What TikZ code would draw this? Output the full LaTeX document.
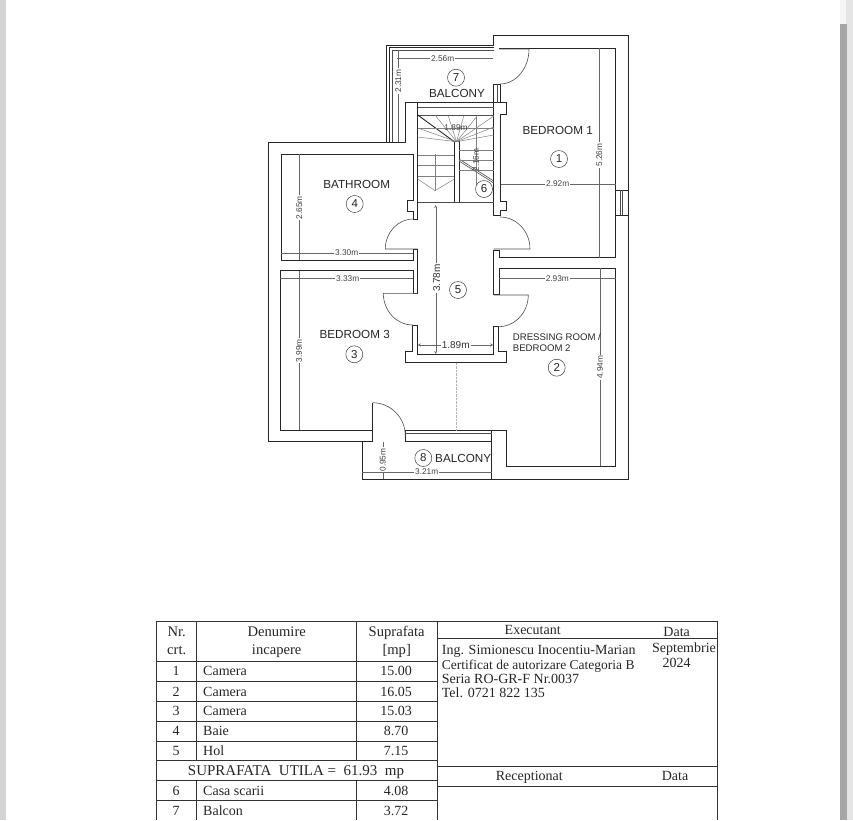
\documentclass[tikz,border=0pt]{standalone}
\usepackage{fontspec}
\setmainfont{Liberation Serif}
\setsansfont{Liberation Sans}
\usetikzlibrary{arrows,positioning}

\begin{document}
\begin{tikzpicture}[
    x=1pt, y=-1pt,
    wall/.style={draw=black!85, line width=1pt, line join=miter},
    thinwall/.style={draw=black!70, line width=0.6pt},
    tread/.style={draw=black!50, line width=0.5pt},
    door/.style={draw=black!70, line width=0.6pt},
    dimline/.style={draw=black!60, line width=0.4pt, <->, >=stealth},
    dimtext/.style={fill=white, inner sep=1pt, text height=5.8pt, text depth=0pt, text=black!75, font=\sffamily\fontsize{8.3}{8}\selectfont},
    dimbig/.style={fill=white, inner sep=1pt, text height=7pt, text depth=0pt, text=black!80, font=\sffamily\fontsize{10}{10}\selectfont},
    roomlab/.style={inner sep=0pt, text height=8.3pt, text depth=0pt, text=black!85, font=\sffamily\fontsize{11.7}{12}\selectfont},
    smallroom/.style={inner sep=0pt, anchor=west, text height=6.9pt, text depth=0pt, text=black!85, font=\sffamily\fontsize{9.6}{10}\selectfont},
    numcirc/.style={circle, draw=black!75, line width=0.5pt, minimum size=17pt, inner sep=0pt, text=black!85, font=\sffamily\fontsize{11.5}{12}\selectfont},
    tabline/.style={draw=black!80, line width=0.9pt},
    tabtext/.style={inner sep=0pt, text height=9.5pt, text depth=0pt, text=black!85, font=\fontsize{14}{14}\selectfont},
    tabhead/.style={tabtext, font=\fontsize{14.6}{14}\selectfont},
    tableft/.style={tabtext, anchor=west}
]
\useasboundingbox (0,0) rectangle (853,820);

% page edges and scroll bar
\fill[black!17] (0,0) rectangle (6,820);
\fill[black!10] (846,0) rectangle (853,820);
\fill[black!4] (840,0) rectangle (846,24);
\fill[black!35] (840,24) rectangle (847,820);

% outer walls
\draw[wall] (493.7,45) -- (493.7,35) -- (628,35) -- (628,479) -- (362,479) -- (362,441) -- (268.3,441) -- (268.3,142.3) -- (405.7,142.3) -- (405.7,102.7) -- (506.3,102.7) -- (506.3,114.3) -- (500.7,114.3) -- (500.7,201.7) -- (506.3,201.7) -- (506.3,210) -- (500.7,210) -- (500.7,215.7) -- (493.7,215.7) -- (493.7,84) -- (500.7,84) -- (500.7,102.7);
\draw[wall] (362,441) -- (372.7,441);
% balcony 7
\draw[wall] (386,142.3) -- (386,45) -- (493.7,45);
\draw[wall] (389,142.3) -- (389,47.5) -- (493.7,47.5);
\draw[thinwall] (392.7,142.3) -- (392.7,50) -- (493.7,50);
\draw[thinwall] (497,84) -- (497,102.7);
% bedroom 1
\draw[wall] (499.3,250) -- (499.3,257.7) -- (615.7,257.7) -- (615.7,48.3) -- (499.3,48.3);
\draw[wall] (493.7,250) -- (499.3,250);
% window
\draw[wall] (615.7,190) -- (628,190) (615.7,215) -- (628,215);
\draw[thinwall] (620.5,190) -- (620.5,215) (622.5,190) -- (622.5,215);
% bedroom 2
\draw[wall] (493.7,250) -- (493.7,294.3) -- (499,294.3) -- (499,268.3) -- (615.7,268.3) -- (615.7,466) -- (506.3,466) -- (506.3,430.3) -- (491.7,430.3) -- (491.7,479);
% bathroom
\draw[wall] (417.7,102.7) -- (417.7,219) -- (413.3,219) -- (413.3,211.7) -- (407,211.7) -- (407,200.7) -- (413.3,200.7) -- (413.3,154) -- (281,154) -- (281,260) -- (413.3,260) -- (413.3,249) -- (417.7,249) -- (417.7,293.3) -- (413.3,293.3) -- (413.3,270.7) -- (280,270.7) -- (280,430.3) -- (372.7,430.3) -- (372.7,402.7);
\draw[wall] (372.7,430.3) -- (372.7,441);
% end of the hall
\draw[wall] (412.7,325) -- (417.7,325) -- (417.7,354) -- (493.3,354) -- (493.3,326.7) -- (498.7,326.7) -- (498.7,351.7) -- (506.3,351.7) -- (506.3,362.7) -- (405.7,362.7) -- (405.7,351.7) -- (412.7,351.7) -- cycle;
% balcony 8
\draw[wall] (405.3,430.3) -- (405.3,441) -- (491.7,441);
\draw[wall] (405.3,430.3) -- (491.7,430.3);
\draw[thinwall] (405.3,433) -- (491.7,433);
\draw[black!30, line width=0.4pt, densely dotted] (455.7,362.7) -- (455.7,430.3);

% doors
\draw[door] (499.3,49) -- (529,49) arc[start angle=0, end angle=-90, x radius=29pt, y radius=35pt];
\draw[door] (417.7,249) -- (385.3,249) arc[start angle=180, end angle=90, x radius=28pt, y radius=30pt];
\draw[door] (493.7,249) -- (530,249) arc[start angle=0, end angle=90, x radius=30pt, y radius=32pt];
\draw[door] (493.7,295) -- (528.3,295) arc[start angle=0, end angle=-90, x radius=30pt, y radius=31.7pt];
\draw[door] (417.7,293.3) -- (383.3,293.3) arc[start angle=180, end angle=270, x radius=29.5pt, y radius=31.7pt];
\draw[door] (372.7,402.7) arc[start angle=90, end angle=0, x radius=32.6pt, y radius=33pt];

% stairs
\draw[thinwall] (417.7,107.7) -- (493.7,107.7) (417.7,115) -- (493.7,115);
\draw[thinwall] (417.7,202.3) -- (493.7,202.3);
\draw[wall, line width=0.9pt] (454.3,202.3) -- (454.3,141.7) -- (459,141.7) -- (459,202.3);
\draw[wall, line width=0.9pt] (417.7,115) -- (454.3,141.7);
\draw[thinwall] (459,159) -- (493.7,181) (459,161) -- (493.7,183);
\foreach \xe/\ye in {435/115, 448/115, 464/115, 478/115, 493.7/116, 493.7/127, 493.7/135, 417.7/128, 417.7/137}
  \draw[tread] (456.5,141.7) -- (\xe,\ye);
\foreach \ye in {155, 165, 176.7}
  \draw[tread] (417.7,\ye) -- (454.3,\ye);
\foreach \ye in {150, 160, 170}
  \draw[tread] (459,\ye) -- (493.7,\ye);
\draw[tread] (435,154) -- (435,190.7);
\draw[tread] (417.7,179) -- (435,190.7) -- (454.3,179);
\draw[tread] (476,116.7) -- (476,191);
\draw[tread] (417.7,128) -- (493.7,128);

% dimensions
\foreach \xa/\ya/\xb/\yb/\xl/\yl/\rot/\txt [count=\i] in {
    396.7/58.3/493.3/58.3/442.7/58.3/0/2.56m,
    398.3/50/398.3/141.7/398.3/81/90/2.31m,
    599.3/48.3/599.3/257.7/599.3/155/90/5.26m,
    500.7/184/615.7/184/557.7/184/0/2.92m,
    299.3/154/299.3/260/299.3/207.7/90/2.65m,
    281/252.7/413.3/252.7/346.7/252.7/0/3.30m,
    280/278.3/413.3/278.3/347.7/278.3/0/3.33m,
    499/278.3/615.7/278.3/557.3/278.3/0/2.93m,
    299/270.7/299/430.3/299/350.7/90/3.99m,
    600/268.3/600/466/600/367.3/90/4.94m,
    382.7/441.7/382.7/479/382.7/460/90/0.95m,
    362/471.7/491.7/471.7/426.7/471.7/0/3.21m}
  \draw[dimline] (\xa,\ya) -- (\xb,\yb) (\xl,\yl) node[dimtext, rotate=\rot] (dim\i) {\txt};
\draw[dimline] (435.7,205) -- (435.7,354);
\draw[dimline] (417.7,345) -- (493.3,345);
\node[dimbig, rotate=90] (hallh) at (436.5,278) {3.78m};
\node[dimbig] (hallw) at (455.7,345) {1.89m};
\node[dimtext, fill=none] (stairw) at (456,128) {1.89m};
\node[dimtext, rotate=90, fill=none] (stairh) at (476,160) {2.16m};

% room names
\node[roomlab] (balc7) at (457,93) {BALCONY};
\node[roomlab] (bed1) at (557.7,130.7) {BEDROOM 1};
\node[roomlab] (bath) at (356.7,184) {BATHROOM};
\node[roomlab] (bed3) at (354.7,334) {BEDROOM 3};
\node[smallroom] (dress) at (512.7,337) {DRESSING ROOM /};
\node[smallroom] (bed2) at (512.7,348.5) {BEDROOM 2};
\node[roomlab, anchor=west] (balc8) at (435,458) {BALCONY};
\foreach \xn/\yn/\num in {559/159/1, 556.7/367.7/2, 354.3/354.3/3, 354.7/204/4, 458/290/5, 484/189/6, 456/77.7/7, 423.3/458/8}
  \node[numcirc, fill=white] (n\num) at (\xn,\yn) {\num};

% left table
\draw[tabline] (437.3,820) -- (437.3,621.7) -- (156.7,621.7) -- (156.7,820);
\foreach \ye in {661, 681, 701.3, 721, 741, 760.7, 780.7, 800.7}
  \draw[tabline] (156.7,\ye) -- (437.3,\ye);
\draw[tabline] (196.7,621.7) -- (196.7,760.7) (356.7,621.7) -- (356.7,760.7);
\draw[tabline] (196.7,780.7) -- (196.7,820) (356.7,780.7) -- (356.7,820);
\node[tabhead] (nrA) at (176.7,632) {Nr.};
\node[tabhead] (nrB) at (176.7,650) {crt.};
\node[tabhead] (denA) at (276.7,632) {Denumire};
\node[tabhead] (denB) at (276.7,650) {incapere};
\node[tabhead] (supA) at (396.7,632) {Suprafata};
\node[tabhead] (supB) at (396.7,650) {[mp]};
\foreach \yr/\nr/\den/\supr in {671/1/Camera/15.00, 691.3/2/Camera/16.05, 711/3/Camera/15.03, 731/4/Baie/8.70, 751/5/Hol/7.15, 790.7/6/Casa scarii/4.08, 810.7/7/Balcon/3.72} {
  \node[tabtext] (nr\nr) at (176,\yr) {\nr};
  \node[tableft] (den\nr) at (203,\yr) {\den};
  \node[tabtext] (sup\nr) at (396,\yr) {\supr};
}
\node[tabtext, font=\fontsize{15}{15}\selectfont] (total) at (296,771) {SUPRAFATA~ UTILA =~ 61.93~ mp};

% right table
\draw[tabline] (437.3,621.7) -- (717.3,621.7) -- (717.3,820);
\foreach \ye in {638.3, 766, 786}
  \draw[tabline] (437.3,\ye) -- (717.3,\ye);
\node[tabtext] (exec) at (532.7,629.3) {Executant};
\node[tabtext] (dataA) at (676.7,631.7) {Data};
\node[tableft] (ing) at (441.7,650) {Ing. Simionescu Inocentiu-Marian};
\node[tableft, font=\fontsize{13.5}{14}\selectfont] (cert) at (441.7,664.5) {Certificat de autorizare Categoria B};
\node[tableft] (seria) at (441.7,678.3) {Seria RO-GR-F Nr.0037};
\node[tableft] (tel) at (441.7,692.3) {Tel. 0721 822 135};
\node[tabtext] (luna) at (684,647.7) {Septembrie};
\node[tabtext] (an) at (676.7,662.7) {2024};
\node[tabtext] (recep) at (529.3,775.7) {Receptionat};
\node[tabtext] (dataB) at (675,775.7) {Data};
\end{tikzpicture}
\end{document}
